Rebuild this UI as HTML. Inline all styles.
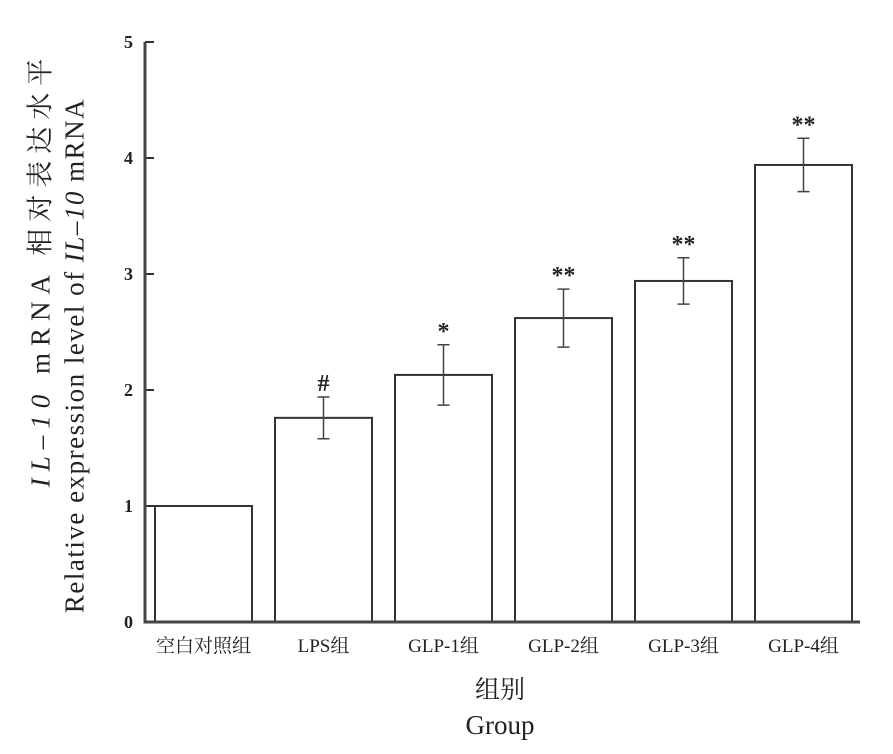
<!DOCTYPE html>
<html><head><meta charset="utf-8"><style>
body{margin:0;background:#fff;}
svg{display:block;font-family:"Liberation Serif","Noto Serif CJK SC",serif;}
</style></head><body>
<svg width="893" height="754" viewBox="0 0 893 754">
<g id="g"></g>
</svg>
<script>
const categories=["空白对照组","LPS组","GLP-1组","GLP-2组","GLP-3组","GLP-4组"];
const values=[1.0,1.76,2.13,2.62,2.94,3.94];
const errors=[0,0.18,0.26,0.25,0.2,0.23];
const marks=["","#","*","**","**","**"];
const yTicks=[0,1,2,3,4,5];
const NS="http://www.w3.org/2000/svg";
const g=document.getElementById('g');
const X0=145,Y0=622,YTOP=42,YMAX=5;
const y=v=>Y0-(Y0-YTOP)*v/YMAX;
const xL=i=>155+i*120, BW=97;
function mk(t,a,txt){const e=document.createElementNS(NS,t);for(const k in a)e.setAttribute(k,a[k]);if(txt!==undefined)e.textContent=txt;g.appendChild(e);return e;}
categories.forEach((c,i)=>{
 const x=xL(i),top=y(values[i]);
 const b=mk('rect',{x:x,y:top,width:BW,height:Y0-top,fill:'#fff',stroke:'#333','stroke-width':2});
 
 
 const cx=x+BW/2;
 if(errors[i]>0){
  const e=mk('path',{d:`M${cx},${y(values[i]+errors[i])}V${y(values[i]-errors[i])}M${cx-6},${y(values[i]+errors[i])}h12M${cx-6},${y(values[i]-errors[i])}h12`,stroke:'#444','stroke-width':1.5,fill:'none'});
  
  
 }
 if(marks[i]){
  const m=mk('text',{x:cx,y:y(values[i]+errors[i])-6,'text-anchor':'middle','font-size':24,'font-weight':'bold',fill:'#222'},marks[i]);
  
  
 }
 const l=mk('text',{x:cx,y:652,'text-anchor':'middle','font-size':19,fill:'#222'},c);
 
 
});
yTicks.forEach(t=>{
 const tk=mk('line',{x1:X0,x2:X0+9,y1:y(t),y2:y(t),stroke:'#333','stroke-width':2});
 
 
 const tl=mk('text',{x:X0-12,y:y(t)+6,'text-anchor':'end','font-size':18,'font-weight':'bold',fill:'#222'},t);
 
 
});
const ax=mk('path',{d:`M${X0},${YTOP}V${Y0}H860`,stroke:'#444','stroke-width':3,fill:'none'});


</script>
<div style="position:absolute;left:0;top:0;width:893px;height:754px;pointer-events:none;font-family:'Liberation Serif','Noto Serif CJK SC',serif;color:#222">
<div style="position:absolute;left:0;width:1000px;top:670px;text-align:center;font-size:25px;">组别</div>
<div style="position:absolute;left:0;width:1000px;top:710px;text-align:center;font-size:27px;">Group</div>
<div style="position:absolute;left:-287px;top:250px;width:650px;text-align:center;font-size:27px;letter-spacing:7px;transform:rotate(-90deg);white-space:nowrap;"><i>IL–10</i> mRNA 相对表达水平</div>
<div style="position:absolute;left:-250px;top:340px;width:650px;text-align:center;font-size:27px;letter-spacing:1.5px;transform:rotate(-90deg);white-space:nowrap;">Relative expression level of <i>IL–10</i> mRNA</div>
</div>
</body></html>
